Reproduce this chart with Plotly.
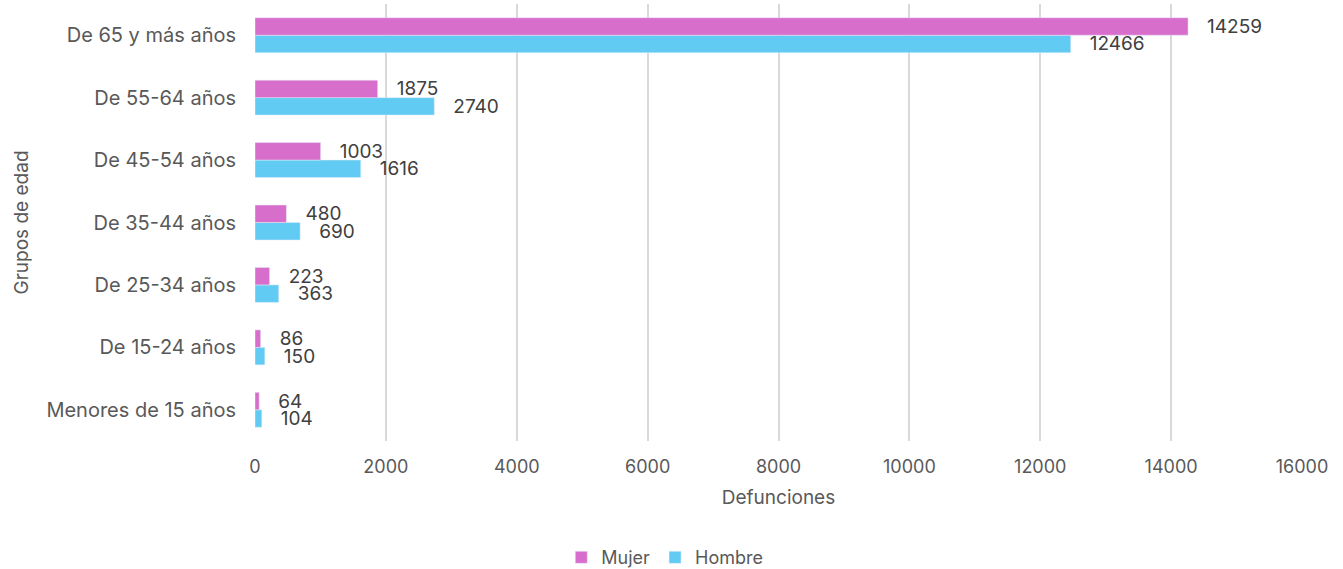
import plotly.graph_objects as go

categories = ["Menores de 15 años", "De 15-24 años", "De 25-34 años", "De 35-44 años",
              "De 45-54 años", "De 55-64 años", "De 65 y más años"]
mujer = [64, 86, 223, 480, 1003, 1875, 14259]
hombre = [104, 150, 363, 690, 1616, 2740, 12466]
x_ticks = [0, 2000, 4000, 6000, 8000, 10000, 12000, 14000, 16000]
x_tick_labels = ["0", "2000", "4000", "6000", "8000", "10000", "12000", "14000", "16000"]

FONT = "Inter"
GRAY = "#595959"
pad = "\u00a0\u00a0\u00a0"

fig = go.Figure()
fig.add_trace(go.Bar(
    y=categories, x=hombre, orientation="h", name="Hombre",
    marker=dict(color="#61CBF3"), legendrank=2,
    text=[pad + str(v) for v in hombre], textposition="outside",
    textfont=dict(size=19, color="#404040", family=FONT), cliponaxis=False,
))
fig.add_trace(go.Bar(
    y=categories, x=mujer, orientation="h", name="Mujer",
    marker=dict(color="#D86ECC"), legendrank=1,
    text=[pad + str(v) for v in mujer], textposition="outside",
    textfont=dict(size=19, color="#404040", family=FONT), cliponaxis=False,
))

fig.update_layout(
    width=1343, height=569,
    margin=dict(l=255, r=41, t=4, b=128),
    barmode="group", bargap=0.44, bargroupgap=0,
    plot_bgcolor="white", paper_bgcolor="white",
    font=dict(family=FONT, color=GRAY, size=18),
    showlegend=True,
    legend=dict(orientation="h", xref="container", yref="container",
                x=0.495, xanchor="center", y=0.02, yanchor="middle",
                font=dict(size=18, color=GRAY, family=FONT), traceorder="normal"),
    xaxis=dict(range=[0, 16000], tickvals=x_ticks, ticktext=x_tick_labels, showgrid=True,
               gridcolor="#D9D9D9", gridwidth=2, zeroline=False, showline=False,
               tickfont=dict(size=18), ticks="", ticklabelstandoff=13,
               title=dict(text="Defunciones", font=dict(size=19), standoff=14)),
    yaxis=dict(categoryorder="array", categoryarray=categories, showgrid=False,
               zeroline=False, showline=False, ticks="", ticklabelstandoff=18,
               tickfont=dict(size=20),
               title=dict(text="Grupos de edad", font=dict(size=19), standoff=12)),
)
fig.update_traces(constraintext="none")
fig.write_html("out.html")
